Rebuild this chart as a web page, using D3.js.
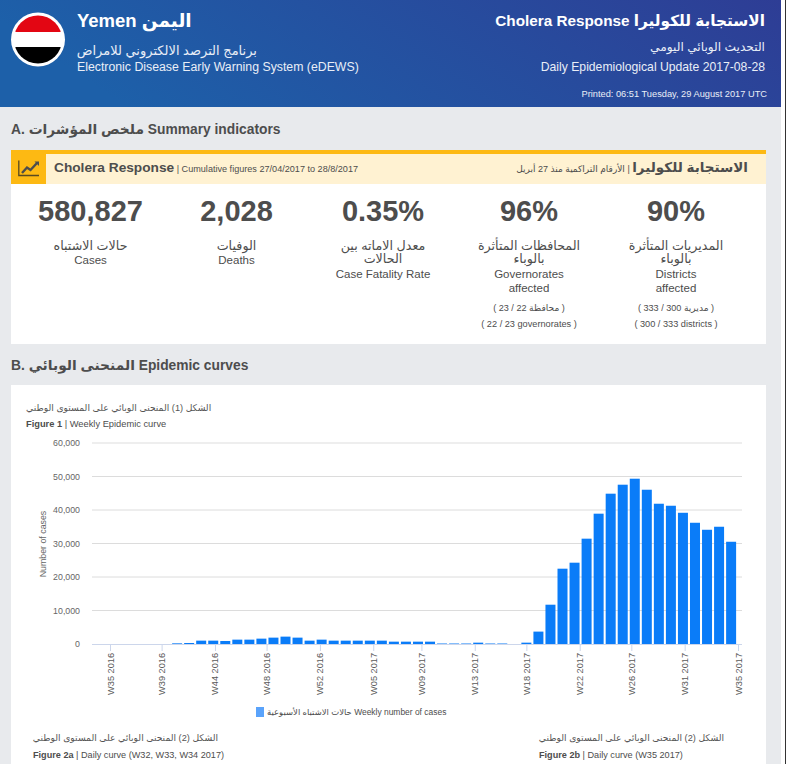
<!DOCTYPE html>
<html><head><meta charset="utf-8">
<script src="https://cdn.jsdelivr.net/npm/d3@7"></script>
<style>
html,body{margin:0;padding:0;background:#fff;overflow:hidden}
svg{display:block}
text{font-family:"Liberation Sans","DejaVu Sans",sans-serif}
</style></head><body><div id="c"></div>
<script>
// Weekly cases, one value per week, Monday 10 Oct 2016 to Monday 28 Aug 2017
const weeklyCases = [200,300,1000,1000,900,1300,1300,1600,1900,2200,1900,1000,1300,1000,1000,1000,1000,1000,700,700,700,700,150,150,150,400,150,150,0,400,
  3700,11730,22480,24270,31440,38900,44870,47550,49340,46050,41870,41270,39170,36190,34100,35000,30520];
const tickMonths = ["2016-09-01","2016-10-01","2016-11-01","2016-12-01","2017-01-01","2017-02-01","2017-03-01","2017-04-01","2017-05-01","2017-06-01","2017-07-01","2017-08-01","2017-09-01"];
const tickLabels = ["W35 2016","W39 2016","W44 2016","W48 2016","W52 2016","W05 2017","W09 2017","W13 2017","W18 2017","W22 2017","W26 2017","W31 2017","W35 2017"];
const yTicks = [0,10000,20000,30000,40000,50000,60000];
const kpiValues = ["580,827","2,028","0.35%","96%","90%"];
const kpiArabic = [["حالات الاشتباه"],["الوفيات"],["معدل الاماته بين","الحالات"],["المحافظات المتأثرة","بالوباء"],["المديريات المتأثرة","بالوباء"]];
const kpiEnglish = [["Cases"],["Deaths"],["Case Fatality Rate"],["Governorates","affected"],["Districts","affected"]];
const kpiNoteArabic = ["","","","( محافظة 22 / 23 )","( مديرية 300 / 333 )"];
const kpiNoteEnglish = ["","","","( 22 / 23 governorates )","( 300 / 333 districts )"];
const kpiCentres = [90.5,236.5,383,529,676];

const parse = d3.utcParse("%Y-%m-%d");
const weeks = weeklyCases.map((v,i)=>new Date(Date.UTC(2016,9,10+7*i)));

const svg = d3.select("#c").append("svg").attr("width",786).attr("height",764);
const defs = svg.append("defs");
const grad = defs.append("linearGradient").attr("id","hdr").attr("x1","0").attr("x2","1").attr("y1","0.2").attr("y2","0");
grad.append("stop").attr("offset","0").attr("stop-color","#1d60a9");
grad.append("stop").attr("offset","1").attr("stop-color","#2e3d95");
defs.append("clipPath").attr("id","flag").append("circle").attr("cx",38).attr("cy",39.5).attr("r",24);

const T=(s,x,y,size,color,opt={})=>{
  const t=svg.append("text").attr("x",x).attr("y",y).attr("font-size",size).attr("fill",color)
    .attr("text-anchor",opt.anchor||"start").attr("font-weight",opt.bold?"bold":"normal");
  if(opt.rtl) t.attr("direction","rtl");
  t.text(s); return t;
};

// page
svg.append("rect").attr("width",781).attr("height",764).attr("fill","#e8eaed");
svg.append("rect").attr("width",781).attr("height",107).attr("fill","url(#hdr)");
svg.append("rect").attr("x",785).attr("width",1).attr("height",764).attr("fill","#333");

// flag
svg.append("circle").attr("cx",38).attr("cy",39.5).attr("r",27).attr("fill","#fff");
const f=svg.append("g").attr("clip-path","url(#flag)");
f.append("rect").attr("x",10).attr("y",12).attr("width",56).attr("height",20).attr("fill","#e30613");
f.append("rect").attr("x",10).attr("y",32).attr("width",56).attr("height",15).attr("fill","#fff");
f.append("rect").attr("x",10).attr("y",47).attr("width",56).attr("height",20).attr("fill","#000");

// header text
T("Yemen اليمن",77,27,18.5,"#fff",{bold:true});
T("برنامج الترصد الالكتروني للامراض",257,55,13,"#e9eef7",{anchor:"end"});
T("Electronic Disease Early Warning System (eDEWS)",77,71,12.3,"#e9eef7");
T("Cholera Response الاستجابة للكوليرا",765,26,15.3,"#fff",{bold:true,anchor:"end"});
T("التحديث الوبائي اليومي",765,51,12.2,"#e9eef7",{anchor:"end"});
T("Daily Epidemiological Update 2017-08-28",765,71,12.2,"#e9eef7",{anchor:"end"});
T("Printed: 06:51 Tuesday, 29 August 2017 UTC",767,97,9.25,"#e9eef7",{anchor:"end"});

// section A
T("A. ملخص المؤشرات Summary indicators",11,134,13.8,"#4d4d4d",{bold:true});
svg.append("rect").attr("x",11).attr("y",150).attr("width",755).attr("height",194).attr("fill","#fff");
svg.append("rect").attr("x",11).attr("y",154).attr("width",755).attr("height",30).attr("fill","#fff2d2");
svg.append("rect").attr("x",11).attr("y",150).attr("width",755).attr("height",4).attr("fill","#fdb913");
svg.append("rect").attr("x",11).attr("y",154).attr("width",35).attr("height",30).attr("fill","#fdb913");
svg.append("path").attr("d","M18.8 160.5v15h20.2").attr("fill","none").attr("stroke","#5a4a20").attr("stroke-width",1.3);
svg.append("path").attr("d","M22 173l5-5.5 3.5 2.5 6.5-7").attr("fill","none").attr("stroke","#4d4d4d").attr("stroke-width",2.4);
svg.append("path").attr("d","M34.5 161.5h4.5v4.5z").attr("fill","#4d4d4d");

const h1=T("Cholera Response",54,172,13.7,"#4d4d4d",{bold:true});
h1.append("tspan").attr("font-size",9.1).attr("font-weight","normal").text(" | Cumulative figures 27/04/2017 to 28/8/2017");
const h2=T("الاستجابة للكوليرا",748,172,13.5,"#4d4d4d",{bold:true,rtl:true});
h2.append("tspan").attr("font-size",9).attr("font-weight","normal").text(" | الأرقام التراكمية منذ 27 أبريل");

kpiValues.forEach((v,i)=>{
  const x=kpiCentres[i];
  T(v,x,221,29,"#4d4d4d",{bold:true,anchor:"middle"});
  let y=250;
  kpiArabic[i].forEach(l=>{T(l,x,y,12.7,"#4d4d4d",{anchor:"middle"});y+=12.5;});
  y=kpiArabic[i].length>1?y+2.5:y+1.5;
  kpiEnglish[i].forEach(l=>{T(l,x,y,11.5,"#4d4d4d",{anchor:"middle"});y+=14;});
  if(kpiNoteArabic[i]){
    T(kpiNoteArabic[i],x,311,9.1,"#4d4d4d",{anchor:"middle",rtl:true});
    T(kpiNoteEnglish[i],x,327,9.2,"#4d4d4d",{anchor:"middle"});
  }
});

// section B
T("B. المنحنى الوبائي Epidemic curves",11,370,13.8,"#4d4d4d",{bold:true});
svg.append("rect").attr("x",11).attr("y",385).attr("width",755).attr("height",379).attr("fill","#fff");
T("الشكل (1) المنحنى الوبائي على المستوى الوطني",26,411,9.2,"#555");
const fig1=T("Figure 1",26,427,9.3,"#4d4d4d",{bold:true});
fig1.append("tspan").attr("font-weight","normal").text(" | Weekly Epidemic curve");

// chart
const x=d3.scaleUtc().domain([parse(tickMonths[0]),parse(tickMonths[tickMonths.length-1])]).range([110,738]);
const y=d3.scaleLinear().domain([0,60000]).range([644,443]);

const yAxis=d3.axisLeft(y).tickValues(yTicks).tickFormat(d3.format(",")).tickSize(0).tickPadding(12);
const gy=svg.append("g").attr("transform","translate(92,0)").call(yAxis);
gy.select(".domain").remove();
gy.selectAll("text").attr("font-size",8.8).attr("fill","#666").style("font-family",'"Liberation Sans"');
svg.append("g").selectAll("line").data(yTicks.filter(d=>d>0)).join("line")
  .attr("x1",92).attr("x2",742).attr("y1",d=>y(d)).attr("y2",d=>y(d))
  .attr("stroke",d=>d===60000?"#e8e8e8":"#dcdcdc").attr("stroke-width",d=>d===60000?1.4:1);

const xAxis=d3.axisBottom(x).tickValues(tickMonths.map(parse))
  .tickFormat((d,i)=>tickLabels[i]).tickSizeOuter(0).tickSize(7).tickPadding(3);
const gx=svg.append("g").attr("transform","translate(0,644)").call(xAxis);
gx.select(".domain").attr("d","M92 0.5H742").attr("stroke","#ccd6eb");
gx.selectAll(".tick line").attr("stroke","#ccd6eb");
gx.selectAll("text").attr("font-size",9.2).attr("fill","#5a5a5a").style("font-family",'"Liberation Sans"')
  .attr("text-anchor","end").attr("dy",0).attr("y",0)
  .attr("transform","translate(3,9) rotate(-90)");

svg.append("g").selectAll("rect").data(weeklyCases).join("rect")
  .attr("x",(d,i)=>x(weeks[i])-5).attr("width",10)
  .attr("y",d=>y(d)).attr("height",d=>y(0)-y(d)).attr("fill","#0a7cf8");

svg.append("text").attr("transform","translate(46,544) rotate(-90)").attr("text-anchor","middle")
  .attr("font-size",8.8).attr("fill","#666").text("Number of cases");

// legend
svg.append("rect").attr("x",256).attr("y",707).attr("width",8).attr("height",10).attr("fill","#5aa3fb");
T("حالات الاشتباه الأسبوعية Weekly number of cases",267,715,8.45,"#4d4d4d");

// figure 2 captions
T("الشكل (2) المنحنى الوبائي على المستوى الوطني",218,741,9.2,"#555",{anchor:"end"});
const f2a=T("Figure 2a",33,758,9.15,"#4d4d4d",{bold:true});
f2a.append("tspan").attr("font-weight","normal").text(" | Daily curve (W32, W33, W34 2017)");
T("الشكل (2) المنحنى الوبائي على المستوى الوطني",724,741,9.2,"#555",{anchor:"end"});
const f2b=T("Figure 2b",539,758,9.15,"#4d4d4d",{bold:true});
f2b.append("tspan").attr("font-weight","normal").text(" | Daily curve (W35 2017)");
</script></body></html>
